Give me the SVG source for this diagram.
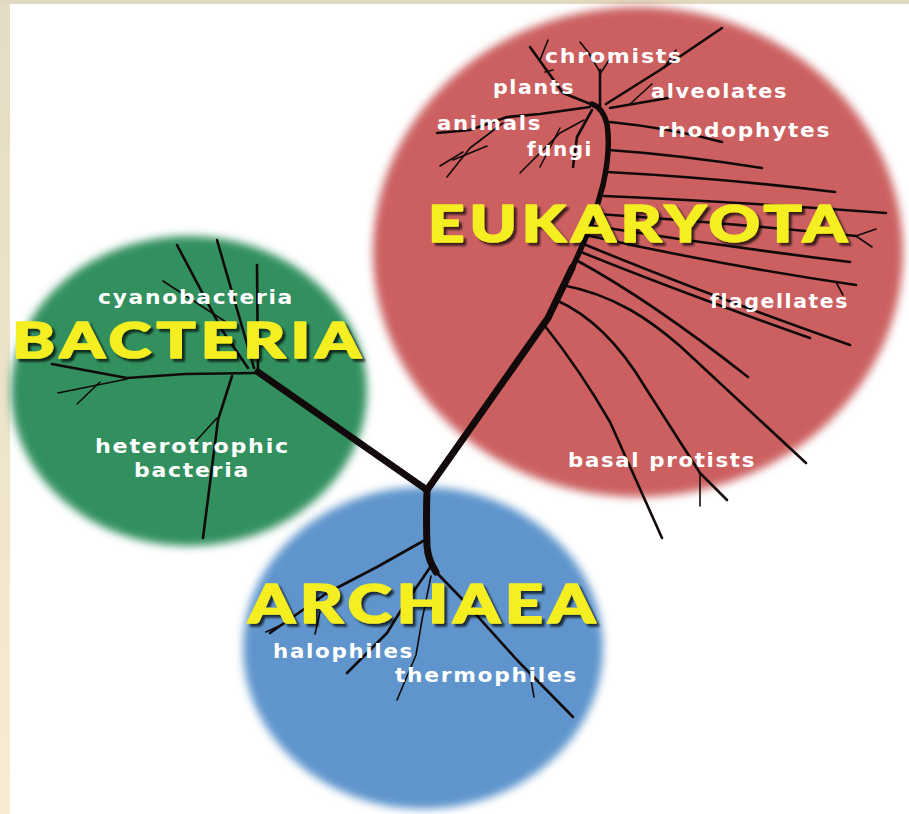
<svg xmlns="http://www.w3.org/2000/svg" width="909" height="814" viewBox="0 0 909 814">
  <defs>
    <linearGradient id="frame" x1="0" y1="0" x2="0" y2="1">
      <stop offset="0" stop-color="#e4dcc4"/>
      <stop offset="1" stop-color="#f8ecd2"/>
    </linearGradient>
    <filter id="soft" x="-10%" y="-10%" width="120%" height="120%">
      <feGaussianBlur stdDeviation="4"/>
    </filter>
    <!-- dark offset shadow under the yellow domain titles -->
    <filter id="drop" x="-5%" y="-20%" width="115%" height="150%">
      <feGaussianBlur in="SourceAlpha" stdDeviation="0.8"/>
      <feOffset dx="3" dy="3" result="off"/>
      <feComponentTransfer in="off" result="dark">
        <feFuncA type="linear" slope="0.7"/>
      </feComponentTransfer>
      <feMerge>
        <feMergeNode in="dark"/>
        <feMergeNode in="SourceGraphic"/>
      </feMerge>
    </filter>
  </defs>
  <style>
    .domain { filter: url(#soft); }
    .tree path { fill: none; stroke: #120a0a; stroke-linecap: round; stroke-linejoin: round; }
    .w1 { stroke-width: 7; }
    .w2 { stroke-width: 4; }
    .w3 { stroke-width: 2.6; }
    .w4 { stroke-width: 1.6; }
    .big { font-family: "Lato", "Liberation Sans", sans-serif; font-weight: 900; letter-spacing: 4px; fill: #f5ef22; stroke: #f5ef22; stroke-width: 1.6; stroke-linejoin: round; filter: url(#drop); }
    .small { font-family: "DejaVu Sans", "Liberation Sans", sans-serif; font-weight: 700; font-size: 19px; letter-spacing: 1.5px; fill: #ffffff; }
  </style>

  <!-- page frame -->
  <rect x="0" y="0" width="909" height="814" fill="url(#frame)"/>
  <rect x="0" y="0" width="909" height="4" fill="#e1d9bf"/>
  <rect x="10" y="4" width="899" height="810" fill="#ffffff"/>

  <!-- domain discs -->
  <g id="bacteria">
    <ellipse class="domain" cx="189" cy="391" rx="178" ry="155" fill="#31905f"/>
  </g>
  <g id="eukaryota">
    <ellipse class="domain" cx="638" cy="252" rx="265" ry="245" fill="#cc6161"/>
  </g>
  <g id="archaea">
    <ellipse class="domain" cx="423" cy="648" rx="180" ry="161" fill="#5f95cc"/>
  </g>

  <!-- tree of life branches -->
  <g id="connectors" class="tree">
    <!-- main trunks from the root -->
    <path class="w1" d="M427,490 L258,372"/>
    <path class="w1" d="M427,490 L548,318 L572,268"/>
    <path class="w2" style="stroke-width:5.5" d="M571,270 Q592,228 603,185 Q611,150 607,124 Q603,108 592,104"/>
    <path class="w1" d="M427,490 Q426,520 427,546 Q428,560 436,572"/>

    <!-- bacteria -->
    <path class="w3" d="M258,372 L257,265"/>
    <path class="w3" d="M254,368 L217,240"/>
    <path class="w3" d="M248,368 L222,330 L177,245"/>
    <path class="w4" d="M226,322 L163,281"/>
    <path class="w3" d="M258,373 L185,374 L127,378 L52,364"/>
    <path class="w4" d="M127,379 L58,393"/>
    <path class="w4" d="M100,382 L77,404"/>
    <path class="w3" d="M232,376 L218,420 L203,538"/>
    <path class="w4" d="M217,418 L196,441"/>

    <!-- archaea -->
    <path class="w3" d="M425,540 L377,567 L327,593 L270,633"/>
    <path class="w4" d="M320,612 L315,634"/>
    <path class="w4" d="M292,620 L266,632"/>
    <path class="w3" d="M431,566 L403,607 L387,633 L347,673"/>
    <path class="w4" d="M431,576 L422,620 L416,655 L397,700"/>
    <path class="w3" d="M436,572 L463,600 L517,660 L573,717"/>
    <path class="w4" d="M530,674 L534,697"/>

    <!-- eukaryota crown -->
    <path class="w3" d="M600,106 L600,70"/>
    <path class="w4" d="M600,72 L588,52"/>
    <path class="w4" d="M600,74 L613,54"/>
    <path class="w4" d="M596,62 L580,42"/>
    <path class="w3" d="M606,104 L660,70 L722,28"/>
    <path class="w4" d="M664,68 L676,50"/>
    <path class="w3" d="M610,108 L668,98"/>
    <path class="w4" d="M630,104 L652,84"/>
    <path class="w3" d="M593,105 L563,93 L530,47"/>
    <path class="w4" d="M545,72 L553,70"/>
    <path class="w4" d="M540,60 L548,40"/>
    <path class="w3" d="M590,107 L540,114 L507,117 L470,130 L437,133"/>
    <path class="w4" d="M503,123 L470,148 L447,177"/>
    <path class="w4" d="M487,146 L453,160"/>
    <path class="w4" d="M463,152 L440,166"/>
    <path class="w3" d="M592,110 L577,137 L573,167"/>
    <path class="w4" d="M584,120 L560,133 L520,173"/>
    <path class="w4" d="M560,128 L540,167"/>

    <!-- eukaryota fan along the trunk -->
    <path class="w3" d="M610,122 Q670,128 722,142"/>
    <path class="w3" d="M609,150 Q680,155 762,168"/>
    <path class="w3" d="M607,172 Q720,178 835,192"/>
    <path class="w3" d="M604,196 Q740,202 886,213"/>
    <path class="w3" d="M598,214 Q740,224 856,236"/>
    <path class="w4" d="M856,236 L876,229"/>
    <path class="w4" d="M856,236 L872,247"/>
    <path class="w3" d="M594,226 Q720,246 850,262"/>
    <path class="w3" d="M590,236 Q720,265 856,285"/>
    <path class="w4" d="M836,282 L843,295"/>
    <path class="w3" d="M586,245 Q700,292 850,345"/>
    <path class="w3" d="M581,252 Q680,292 810,338"/>
    <path class="w3" d="M576,260 Q650,300 748,377"/>
    <path class="w3" d="M562,285 C615,295 650,320 680,346 L806,463"/>
    <path class="w3" d="M556,300 C590,315 620,345 645,387 L700,473 L727,500"/>
    <path class="w4" d="M700,473 L700,506"/>
    <path class="w3" d="M545,326 Q580,370 610,422 L662,538"/>
  </g>

  <!-- domain titles and group names -->
  <g id="bacteria-labels">
    <text class="big" x="12" y="358" font-size="50" textLength="354" lengthAdjust="spacingAndGlyphs">BACTERIA</text>
    <text class="small" x="98" y="304" textLength="196" lengthAdjust="spacingAndGlyphs">cyanobacteria</text>
    <text class="small" x="95" y="453" textLength="195" lengthAdjust="spacingAndGlyphs">heterotrophic</text>
    <text class="small" x="134" y="477" textLength="116" lengthAdjust="spacingAndGlyphs">bacteria</text>
  </g>
  <g id="eukaryota-labels">
    <text class="big" x="428" y="242" font-size="51" textLength="424" lengthAdjust="spacingAndGlyphs">EUKARYOTA</text>
    <text class="small" x="545" y="63" textLength="138" lengthAdjust="spacingAndGlyphs">chromists</text>
    <text class="small" x="493" y="94" textLength="82" lengthAdjust="spacingAndGlyphs">plants</text>
    <text class="small" x="651" y="98" textLength="137" lengthAdjust="spacingAndGlyphs">alveolates</text>
    <text class="small" x="437" y="130" textLength="105" lengthAdjust="spacingAndGlyphs">animals</text>
    <text class="small" x="658" y="137" textLength="173" lengthAdjust="spacingAndGlyphs">rhodophytes</text>
    <text class="small" x="527" y="156" textLength="66" lengthAdjust="spacingAndGlyphs">fungi</text>
    <text class="small" x="710" y="308" textLength="139" lengthAdjust="spacingAndGlyphs">flagellates</text>
    <text class="small" x="568" y="467" textLength="188" lengthAdjust="spacingAndGlyphs">basal protists</text>
  </g>
  <g id="archaea-labels">
    <text class="big" x="248" y="623" font-size="54" textLength="352" lengthAdjust="spacingAndGlyphs">ARCHAEA</text>
    <text class="small" x="273" y="658" textLength="141" lengthAdjust="spacingAndGlyphs">halophiles</text>
    <text class="small" x="395" y="682" textLength="183" lengthAdjust="spacingAndGlyphs">thermophiles</text>
  </g>
</svg>
